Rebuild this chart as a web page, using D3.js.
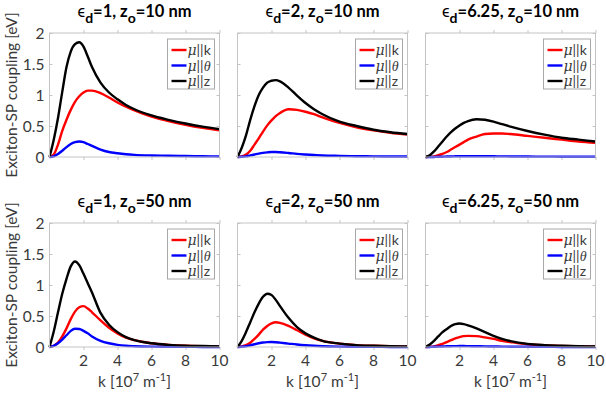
<!DOCTYPE html>
<html>
<head>
<meta charset="utf-8">
<script src="https://cdnjs.cloudflare.com/ajax/libs/d3/7.8.5/d3.min.js"></script>
<style>
  body { margin: 0; background: #fff; }
  svg text { font-family: Lato, "Open Sans", sans-serif; }
</style>
</head>
<body>
<script>
// k grid [10^7 m^-1], shared by every curve
var kGrid = [0, 0.25, 0.5, 0.75, 1, 1.25, 1.5, 1.75, 2, 2.25, 2.5, 3, 3.5, 4, 4.5, 5, 6, 7, 8, 9, 10];

// z0 = 10 nm
var muK_e1_z10 = [0, 0.04, 0.2, 0.42, 0.6, 0.76, 0.89, 0.98, 1.04, 1.07, 1.07, 1.03, 0.96, 0.88, 0.81, 0.75, 0.65, 0.58, 0.52, 0.47, 0.43];
var muT_e1_z10 = [0, 0.01, 0.05, 0.1, 0.16, 0.21, 0.24, 0.25, 0.24, 0.21, 0.18, 0.12, 0.08, 0.06, 0.045, 0.035, 0.025, 0.02, 0.015, 0.012, 0.01];
var muZ_e1_z10 = [0, 0.28, 0.63, 1.05, 1.45, 1.7, 1.82, 1.85, 1.78, 1.62, 1.45, 1.2, 1.04, 0.93, 0.84, 0.77, 0.67, 0.6, 0.54, 0.49, 0.45];

var muK_e2_z10 = [0, 0.01, 0.04, 0.1, 0.2, 0.3, 0.41, 0.51, 0.59, 0.66, 0.71, 0.77, 0.76, 0.73, 0.69, 0.64, 0.55, 0.48, 0.43, 0.39, 0.36];
var muT_e2_z10 = [0, 0.003, 0.01, 0.025, 0.04, 0.055, 0.067, 0.075, 0.08, 0.08, 0.077, 0.065, 0.05, 0.04, 0.032, 0.025, 0.018, 0.013, 0.01, 0.008, 0.007];
var muZ_e2_z10 = [0, 0.15, 0.35, 0.6, 0.82, 1.0, 1.12, 1.2, 1.23, 1.24, 1.22, 1.12, 0.99, 0.87, 0.77, 0.69, 0.57, 0.5, 0.44, 0.4, 0.37];

var muK_e6_z10 = [0, 0.003, 0.01, 0.03, 0.05, 0.08, 0.12, 0.16, 0.2, 0.24, 0.28, 0.33, 0.37, 0.38, 0.38, 0.37, 0.34, 0.31, 0.28, 0.25, 0.23];
var muT_e6_z10 = [0, 0, 0.001, 0.003, 0.005, 0.007, 0.009, 0.011, 0.012, 0.013, 0.013, 0.013, 0.012, 0.011, 0.01, 0.009, 0.007, 0.006, 0.005, 0.004, 0.004];
var muZ_e6_z10 = [0, 0.03, 0.09, 0.17, 0.25, 0.33, 0.4, 0.46, 0.51, 0.55, 0.58, 0.61, 0.6, 0.57, 0.53, 0.49, 0.42, 0.36, 0.31, 0.28, 0.25];

// z0 = 50 nm
var muK_e1_z50 = [0, 0.02, 0.07, 0.17, 0.3, 0.45, 0.57, 0.64, 0.66, 0.62, 0.56, 0.43, 0.31, 0.22, 0.15, 0.11, 0.06, 0.035, 0.02, 0.013, 0.01];
var muT_e1_z50 = [0, 0.02, 0.06, 0.12, 0.19, 0.26, 0.295, 0.29, 0.26, 0.22, 0.17, 0.1, 0.06, 0.035, 0.02, 0.013, 0.006, 0.003, 0.002, 0.001, 0.001];
var muZ_e1_z50 = [0, 0.25, 0.56, 0.86, 1.1, 1.3, 1.38, 1.32, 1.18, 1.03, 0.88, 0.55, 0.36, 0.24, 0.16, 0.11, 0.06, 0.035, 0.02, 0.015, 0.01];

var muK_e2_z50 = [0, 0.01, 0.03, 0.07, 0.13, 0.2, 0.28, 0.34, 0.38, 0.4, 0.39, 0.34, 0.27, 0.2, 0.14, 0.1, 0.055, 0.03, 0.02, 0.013, 0.01];
var muT_e2_z50 = [0, 0.003, 0.012, 0.027, 0.045, 0.06, 0.072, 0.079, 0.08, 0.077, 0.07, 0.055, 0.04, 0.028, 0.019, 0.013, 0.006, 0.003, 0.002, 0.001, 0.001];
var muZ_e2_z50 = [0, 0.1, 0.24, 0.4, 0.56, 0.7, 0.81, 0.86, 0.84, 0.76, 0.66, 0.47, 0.32, 0.22, 0.15, 0.1, 0.055, 0.03, 0.02, 0.013, 0.01];

var muK_e6_z50 = [0, 0.003, 0.01, 0.03, 0.05, 0.08, 0.11, 0.14, 0.16, 0.175, 0.18, 0.175, 0.155, 0.13, 0.1, 0.08, 0.045, 0.028, 0.018, 0.011, 0.007];
var muT_e6_z50 = [0, 0.001, 0.003, 0.006, 0.009, 0.011, 0.013, 0.014, 0.015, 0.015, 0.014, 0.012, 0.01, 0.008, 0.006, 0.005, 0.003, 0.002, 0.001, 0.001, 0.001];
var muZ_e6_z50 = [0, 0.04, 0.1, 0.17, 0.24, 0.29, 0.34, 0.37, 0.38, 0.37, 0.35, 0.3, 0.24, 0.18, 0.13, 0.095, 0.05, 0.03, 0.02, 0.012, 0.008];

var epsLabels = ["1", "2", "6.25"];
var zLabels = ["10", "50"];
var xTicks = [2, 4, 6, 8, 10];
var yTicks = [0, 0.5, 1, 1.5, 2];
var seriesColors = ["#ff0000", "#0000ff", "#000000"];
var legendKeys = ["k", "\u03b8", "z"];

var panels = [
  [muK_e1_z10, muT_e1_z10, muZ_e1_z10],
  [muK_e2_z10, muT_e2_z10, muZ_e2_z10],
  [muK_e6_z10, muT_e6_z10, muZ_e6_z10],
  [muK_e1_z50, muT_e1_z50, muZ_e1_z50],
  [muK_e2_z50, muT_e2_z50, muZ_e2_z50],
  [muK_e6_z50, muT_e6_z50, muZ_e6_z50]
];

var svg = d3.select("body").append("svg")
  .attr("width", 606)
  .attr("height", 394);

var colLeft = [49.5, 237.5, 425.5];
var rowTop = [33, 223];
var pw = 170, ph = 124;
var frameColor = "#c4c4c4";
var textColor = "#3a3a3a";

panels.forEach(function (series, i) {
  var col = i % 3, row = Math.floor(i / 3);
  var x = d3.scaleLinear().domain([0, 10]).range([0, pw]);
  var y = d3.scaleLinear().domain([0, 2]).range([ph, 0]);

  var g = svg.append("g")
    .attr("transform", "translate(" + colLeft[col] + "," + rowTop[row] + ")");

  // ticks inside the box, on all four sides
  g.append("g").call(d3.axisTop(x).tickValues(xTicks).tickSize(-3).tickFormat(""))
    .attr("transform", "translate(0," + ph + ")");
  g.append("g").call(d3.axisBottom(x).tickValues(xTicks).tickSize(-3).tickFormat(""));
  g.append("g").call(d3.axisRight(y).tickValues(yTicks).tickSize(-3).tickFormat(""))
    .attr("transform", "translate(" + pw + ",0)");
  g.append("g").call(d3.axisLeft(y).tickValues(yTicks).tickSize(-3).tickFormat(""));
  g.selectAll(".domain").remove();
  g.selectAll(".tick line").attr("stroke", frameColor);

  if (col === 0) {
    g.selectAll(null).data(yTicks).enter().append("text")
      .attr("x", -5).attr("y", function (d) { return y(d) + 5.5; })
      .attr("text-anchor", "end").attr("font-size", 15.5).attr("fill", textColor)
      .text(function (d) { return d; });
  }
  if (row === 1) {
    g.selectAll(null).data(xTicks).enter().append("text")
      .attr("x", function (d) { return x(d); }).attr("y", ph + 19)
      .attr("text-anchor", "middle").attr("font-size", 15.5).attr("fill", textColor)
      .text(function (d) { return d; });
    var xl = g.append("text")
      .attr("x", pw / 2).attr("y", ph + 40)
      .attr("text-anchor", "middle").attr("font-size", 15.5).attr("fill", textColor);
    xl.append("tspan").text("k [10");
    xl.append("tspan").attr("dy", -6).attr("font-size", 11).text("7");
    xl.append("tspan").attr("dy", 6).text(" m");
    xl.append("tspan").attr("dy", -6).attr("font-size", 11).text("-1");
    xl.append("tspan").attr("dy", 6).text("]");
  }

  var line = d3.line()
    .x(function (d, j) { return x(kGrid[j]); })
    .y(function (d) { return y(d); })
    .curve(d3.curveMonotoneX);

  series.forEach(function (vals, s) {
    g.append("path").datum(vals)
      .attr("d", line)
      .attr("fill", "none")
      .attr("stroke", seriesColors[s])
      .attr("stroke-width", 2.4)
      .attr("stroke-linejoin", "round");
  });

  g.append("rect").attr("width", pw).attr("height", ph)
    .attr("fill", "none").attr("stroke", frameColor).attr("stroke-width", 1);

  // title
  var t = g.append("text")
    .attr("x", pw / 2).attr("y", -16)
    .attr("text-anchor", "middle").attr("font-size", 16.5).attr("font-weight", "bold")
    .attr("fill", "#000");
  t.append("tspan").attr("font-weight", "normal").text("\u03f5");
  t.append("tspan").attr("dy", 6).attr("font-size", 14).text("d");
  t.append("tspan").attr("dy", -6).text("=" + epsLabels[col] + ", z");
  t.append("tspan").attr("dy", 6).attr("font-size", 14).text("o");
  t.append("tspan").attr("dy", -6).text("=" + zLabels[row] + " nm");

  // legend
  var lw = 47, lh = 50;
  var lg = g.append("g").attr("transform", "translate(" + (pw - lw - 5) + ",6)");
  lg.append("rect").attr("width", lw).attr("height", lh)
    .attr("fill", "#fff").attr("stroke", "#a8a8a8").attr("stroke-width", 1);
  legendKeys.forEach(function (key, s) {
    var ly = 11 + s * 15.5;
    lg.append("line").attr("x1", 4).attr("x2", 19).attr("y1", ly).attr("y2", ly)
      .attr("stroke", seriesColors[s]).attr("stroke-width", 2.4);
    var lt = lg.append("text").attr("x", 20).attr("y", ly + 5)
      .attr("font-size", 14).attr("fill", textColor);
    lt.append("tspan").attr("font-family", "'DejaVu Serif', 'Liberation Serif', serif")
      .attr("font-style", "italic").text("\u03bc");
    lt.append("tspan").text("||");
    var kt = lt.append("tspan").text(key);
    if (s === 1) kt.attr("font-family", "'Liberation Serif', serif").attr("font-style", "italic");
  });
});

// y axis labels, one per row
rowTop.forEach(function (top) {
  svg.append("text")
    .attr("transform", "translate(16.5," + (top + ph / 2) + ") rotate(-90)")
    .attr("text-anchor", "middle").attr("font-size", 15.5).attr("fill", textColor)
    .text("Exciton-SP coupling [eV]");
});
</script>
</body>
</html>
